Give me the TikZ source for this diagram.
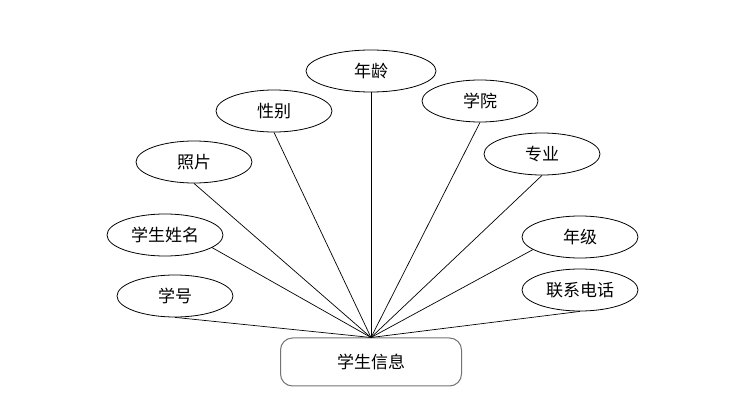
\documentclass[tikz,border=0pt]{standalone}
\usepackage{fontspec}
\setmainfont{Liberation Serif}
\newfontfamily\cjk{Noto Sans CJK SC}
\usetikzlibrary{shapes.geometric}
\tikzset{
    attr/.style={shape=ellipse, draw, line width=0.8pt, minimum width=116pt, minimum height=42pt, inner sep=0pt, font=\cjk\fontsize{17}{19}\selectfont},
    entity/.style={shape=rectangle, draw=black!55, line width=1pt, rounded corners=12pt, minimum width=181pt, minimum height=48pt, font=\cjk\fontsize{17}{19}\selectfont},
    link/.style={line width=0.7pt}
}
\begin{document}
\begin{tikzpicture}[x=1pt, y=-1pt]
            \useasboundingbox (0,0) rectangle (756,406);
            % Entity and its attributes:
            \node[entity] (info) at (371, 362){学生信息};
            \node[attr, minimum width=130pt] (age) at (371, 71){年龄};
            \node[attr] (sex) at (274, 111){性别};
            \node[attr] (college) at (480, 101){学院};
            \node[attr] (photo) at (194, 162){照片};
            \node[attr] (major) at (542, 154){专业};
            \node[attr] (name) at (165, 235){学生姓名};
            \node[attr] (grade) at (580, 237){年级};
            \node[attr] (sno) at (175, 296){学号};
            \node[attr] (phone) at (580, 290){联系电话};
            % Links:
            \draw[link] (age.south) -- (info.north);
            \draw[link] (sex.south) -- (info.north);
            \draw[link] (college.south) -- (info.north);
            \draw[link] (photo.south) -- (info.north);
            \draw[link] (major.south) -- (info.north);
            \draw[link] (name.345) -- (info.north);
            \draw[link] (grade.195) -- (info.north);
            \draw[link] (sno.south) -- (info.north);
            \draw[link] (phone.south) -- (info.north);
        \end{tikzpicture}
\end{document}
